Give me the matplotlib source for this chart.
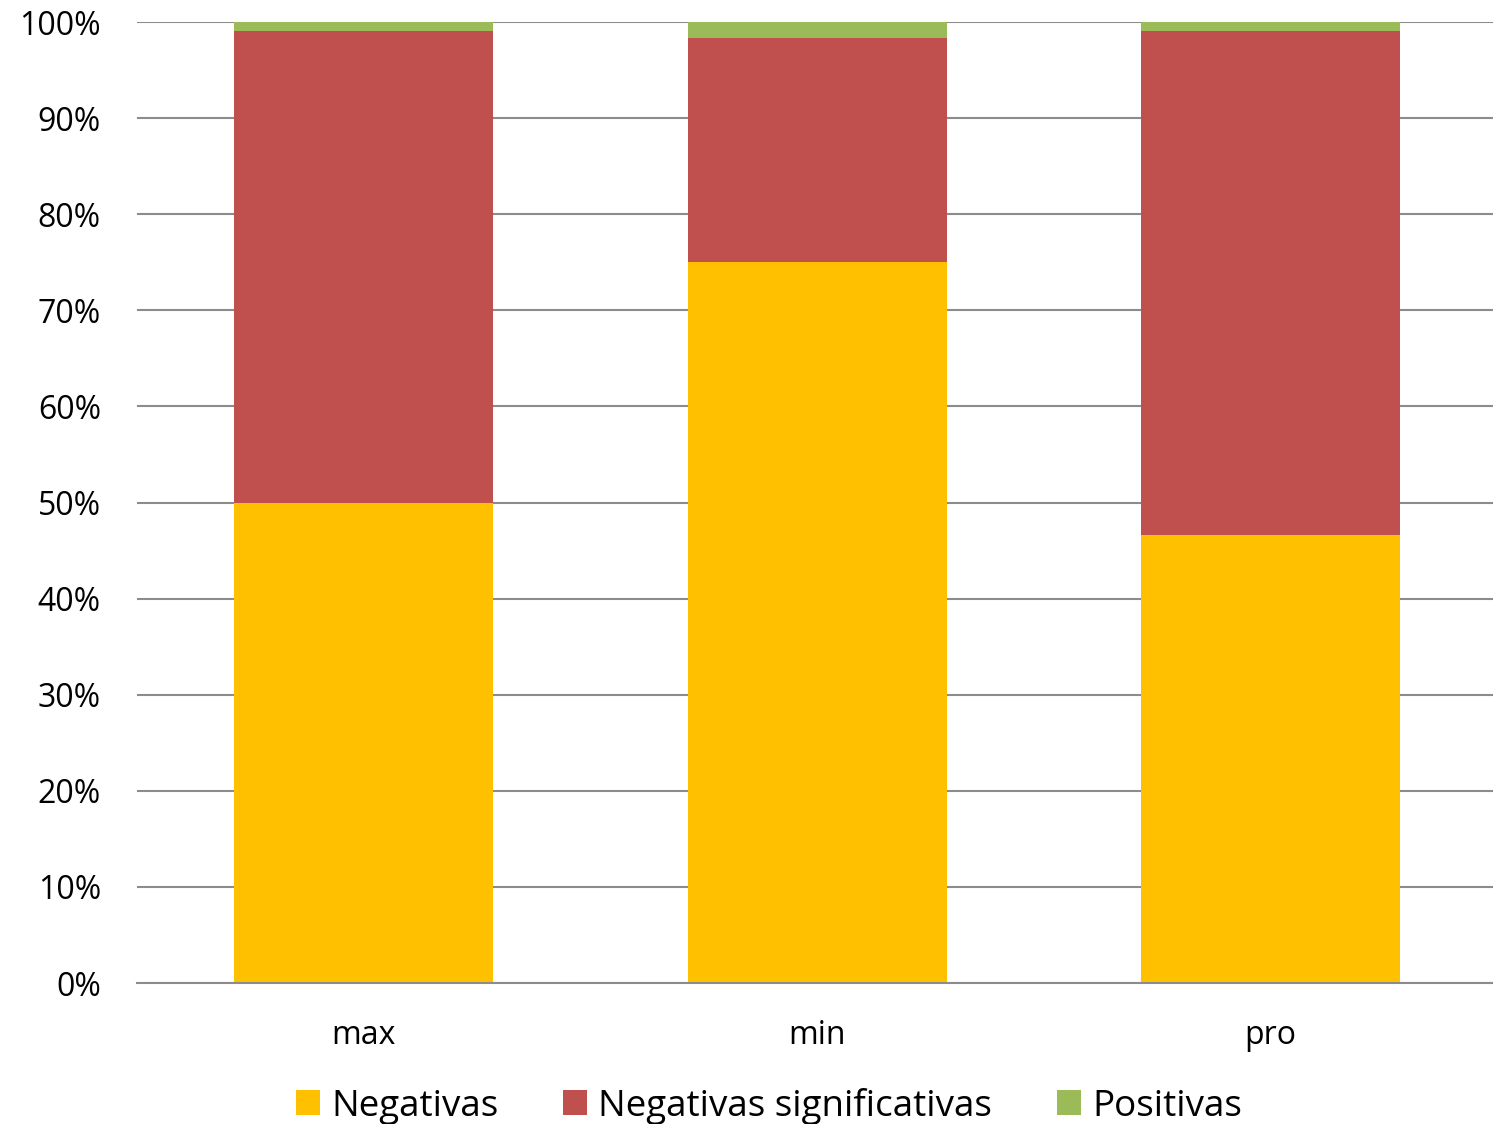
import matplotlib.pyplot as plt
import numpy as np
from matplotlib.ticker import PercentFormatter

plt.rcParams['font.family'] = ['Open Sans', 'DejaVu Sans']

# Data (shares in percent)
categories = ["max", "min", "pro"]
negativas = [50.0, 75.0, 46.6]
negativas_signif = [49.1, 23.3, 52.5]
positivas = [0.9, 1.7, 0.9]

series_names = ["Negativas", "Negativas significativas", "Positivas"]
colors = ["#FFC000", "#C0504D", "#9BBB59"]

fig = plt.figure(figsize=(14.93, 11.24), dpi=100)
ax = fig.add_axes([0.0918, 0.1254, 0.911, 0.855])

x = np.arange(len(categories))
bottom = np.zeros(len(categories))
for vals, name, col in zip([negativas, negativas_signif, positivas], series_names, colors):
    ax.bar(x, vals, width=0.571, bottom=bottom, color=col, label=name, zorder=3)
    bottom += np.array(vals)

ax.set_xlim(-0.5, 2.5)
ax.set_ylim(0, 100)
ax.set_yticks(np.arange(0, 101, 10))
ax.yaxis.set_major_formatter(PercentFormatter(decimals=0))
ax.set_xticks(x)
ax.set_xticklabels(categories)

ax.grid(axis='y', color='#8C8C8C', linewidth=1.5, zorder=0)
for s in ['top', 'right', 'left']:
    ax.spines[s].set_visible(False)
ax.spines['bottom'].set_color('#8C8C8C')
ax.spines['bottom'].set_linewidth(1.5)
ax.spines['bottom'].set_zorder(4)

ax.tick_params(axis='y', length=0, pad=26, labelsize=23)
ax.tick_params(axis='x', length=0, pad=26, labelsize=23)

fig.legend(loc='center', bbox_to_anchor=(0.515, 0.016), ncol=3, frameon=False,
           fontsize=26.5, handlelength=0.66, handleheight=0.66, handletextpad=0.3,
           columnspacing=1.75)

fig.savefig("out.png", dpi=100)
